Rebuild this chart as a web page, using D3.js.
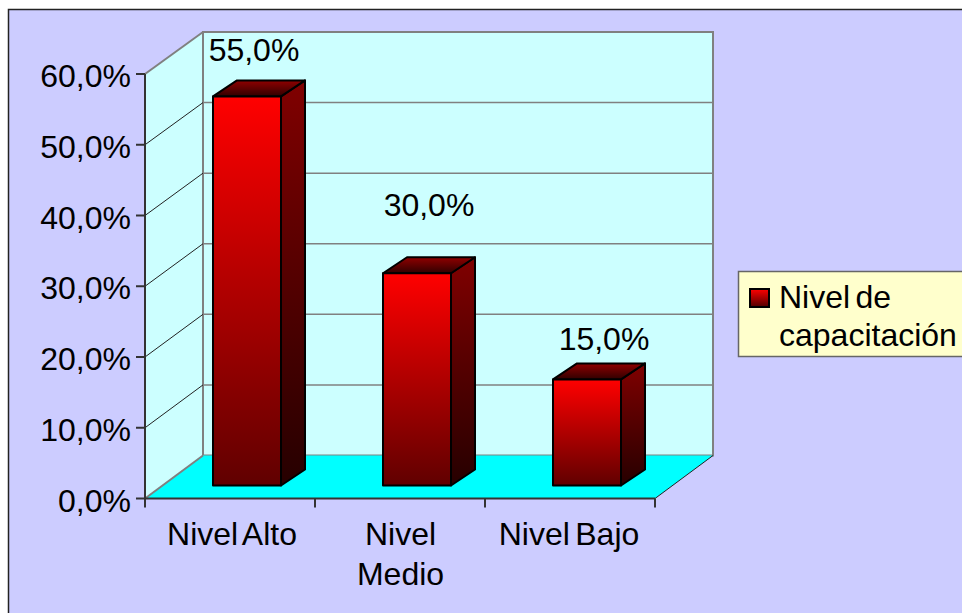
<!DOCTYPE html>
<html>
<head>
<meta charset="utf-8">
<script src="https://cdn.jsdelivr.net/npm/d3@7"></script>
<style>
html, body { margin: 0; padding: 0; background: #fff; overflow: hidden; }
text { font-family: "Liberation Sans", Arial, sans-serif; fill: #000; word-spacing: -3.5px; }
</style>
</head>
<body>
<svg id="svg" width="962" height="613"></svg>
<script>
const categories = [["Nivel Alto"], ["Nivel", "Medio"], ["Nivel Bajo"]];
const values = [55, 30, 15];
const valueLabels = ["55,0%", "30,0%", "15,0%"];
const ticks = [0, 10, 20, 30, 40, 50, 60];
const legendLines = ["Nivel de", "capacitación"];

const svg = d3.select("#svg");
const fmt = d => d.toFixed(1).replace(".", ",") + "%";

// frame
svg.append("rect").attr("x", 8.5).attr("y", 9.5).attr("width", 960).attr("height", 610)
    .attr("fill", "#ccccff").attr("stroke", "#222").attr("stroke-width", 1.5);

const x0 = 145, x1 = 655, wallDx = 58;
const y = d3.scaleLinear().domain([0, 60]).range([498.5, 74]);
const yBack = d3.scaleLinear().domain([0, 60]).range([455.5, 32]);
const x = d3.scaleBand().domain(d3.range(categories.length)).range([x0, x1])
    .paddingInner(0.6).paddingOuter(0.3).align(2 / 3);
const barDx = 24, barDy = -16, barShift = -13;

const defs = svg.append("defs");
function grad(id, stops) {
    const g = defs.append("linearGradient").attr("id", id)
        .attr("x1", 0).attr("y1", 0).attr("x2", 0).attr("y2", 1);
    stops.forEach((c, i) => g.append("stop").attr("offset", i / (stops.length - 1)).attr("stop-color", c));
}
grad("front", ["#ff0000", "#600000"]);
grad("side", ["#800000", "#260000"]);
grad("top", ["#900000", "#300000"]);
grad("key", ["#ff0000", "#500000"]);

const line = d3.line();
const pts = (...p) => line(p) + "Z";

// side wall, back wall, floor
svg.append("path")
    .attr("d", pts([x0, y(0)], [x0, y(60)], [x0 + wallDx, yBack(60)], [x0 + wallDx, yBack(0)]))
    .attr("fill", "#ccffff");
svg.append("rect").attr("x", x0 + wallDx).attr("y", yBack(60))
    .attr("width", x1 - x0).attr("height", yBack(0) - yBack(60))
    .attr("fill", "#ccffff").attr("stroke", "#808080").attr("stroke-width", 2);
svg.append("path")
    .attr("d", pts([x0, y(0)], [x0 + wallDx, yBack(0)], [x1 + wallDx, yBack(0)], [x1, y(0)]))
    .attr("fill", "#00ffff");

// wall grid lines
svg.append("g").selectAll("line").data(ticks.slice(1, -1)).join("line")
    .attr("x1", x0 + wallDx).attr("x2", x1 + wallDx)
    .attr("y1", d => yBack(d)).attr("y2", d => yBack(d))
    .attr("stroke", "#808080").attr("stroke-width", 1.5);
svg.append("g").selectAll("line").data(ticks.slice(1, -1)).join("line")
    .attr("x1", x0).attr("x2", x0 + wallDx)
    .attr("y1", d => y(d)).attr("y2", d => yBack(d))
    .attr("stroke", "#222").attr("stroke-width", 1);
// edges of side wall and floor
svg.append("path")
    .attr("d", line([[x0, y(60)], [x0 + wallDx, yBack(60)]]))
    .attr("stroke", "#808080").attr("stroke-width", 2).attr("fill", "none");
svg.append("path")
    .attr("d", line([[x0, y(0)], [x0 + wallDx, yBack(0)]]))
    .attr("stroke", "#808080").attr("stroke-width", 2).attr("fill", "none");
svg.append("path")
    .attr("d", line([[x1, y(0)], [x1 + wallDx, yBack(0)]]))
    .attr("stroke", "#222").attr("stroke-width", 1).attr("fill", "none");

// bars
const bars = svg.append("g").selectAll("g").data(values).join("g");
const bl = i => x(i), br = i => x(i) + x.bandwidth();
const stroke = b => b.attr("stroke", "#000").attr("stroke-width", 2).attr("stroke-linejoin", "round");
bars.append("path")
    .attr("d", (d, i) => pts([br(i), y(d) + barShift], [br(i) + barDx, y(d) + barShift + barDy],
        [br(i) + barDx, y(0) + barShift + barDy], [br(i), y(0) + barShift]))
    .attr("fill", "url(#side)").call(stroke);
bars.append("path")
    .attr("d", (d, i) => pts([bl(i), y(d) + barShift], [bl(i) + barDx, y(d) + barShift + barDy],
        [br(i) + barDx, y(d) + barShift + barDy], [br(i), y(d) + barShift]))
    .attr("fill", "url(#top)").call(stroke);
bars.append("rect")
    .attr("x", (d, i) => bl(i)).attr("y", d => y(d) + barShift)
    .attr("width", x.bandwidth()).attr("height", d => y(0) - y(d))
    .attr("fill", "url(#front)").call(stroke);

// value labels
const labelDy = [-35, -57, -29];
svg.append("g").selectAll("text").data(values).join("text")
    .attr("x", (d, i) => x(i) + 41 + 5 * i)
    .attr("y", (d, i) => y(d) + barShift + labelDy[i])
    .attr("text-anchor", "middle").attr("font-size", 32)
    .text((d, i) => valueLabels[i]);

// axes
svg.append("path").attr("d", line([[x0, y(0)], [x0, y(60)]])).attr("stroke", "#333").attr("stroke-width", 2).attr("fill", "none");
svg.append("path").attr("d", line([[x0, y(0)], [x1, y(0)]])).attr("stroke", "#333").attr("stroke-width", 2).attr("fill", "none");
svg.append("g").selectAll("line").data(ticks).join("line")
    .attr("x1", x0 - 9).attr("x2", x0).attr("y1", d => y(d)).attr("y2", d => y(d))
    .attr("stroke", "#333").attr("stroke-width", 2);
svg.append("g").selectAll("text").data(ticks).join("text")
    .attr("x", x0 - 14).attr("y", d => y(d) + 13)
    .attr("text-anchor", "end").attr("font-size", 32).text(fmt);
svg.append("g").selectAll("line").data(d3.range(categories.length + 1)).join("line")
    .attr("x1", d => x0 + d * x.step()).attr("x2", d => x0 + d * x.step())
    .attr("y1", y(0)).attr("y2", y(0) + 9)
    .attr("stroke", "#333").attr("stroke-width", 2);
svg.append("g").selectAll("text").data(categories).join("text")
    .attr("text-anchor", "middle").attr("font-size", 32)
    .each(function (d, i) {
        d3.select(this).selectAll("tspan").data(d).join("tspan")
            .attr("x", x0 + (i + 0.5) * x.step() + 2 - 1.5 * i).attr("y", (t, j) => 545 + j * 40).text(t => t);
    });

// legend
svg.append("rect").attr("x", 738.5).attr("y", 271.5).attr("width", 240).attr("height", 85)
    .attr("fill", "#ffffcc").attr("stroke", "#666").attr("stroke-width", 1.5);
svg.append("rect").attr("x", 750).attr("y", 289).attr("width", 19).attr("height", 18)
    .attr("fill", "url(#key)").attr("stroke", "#000").attr("stroke-width", 2);
svg.append("g").selectAll("text").data(legendLines).join("text")
    .attr("x", 779).attr("y", (d, i) => 308 + i * 38)
    .attr("font-size", 32).text(d => d);
</script>
</body>
</html>
